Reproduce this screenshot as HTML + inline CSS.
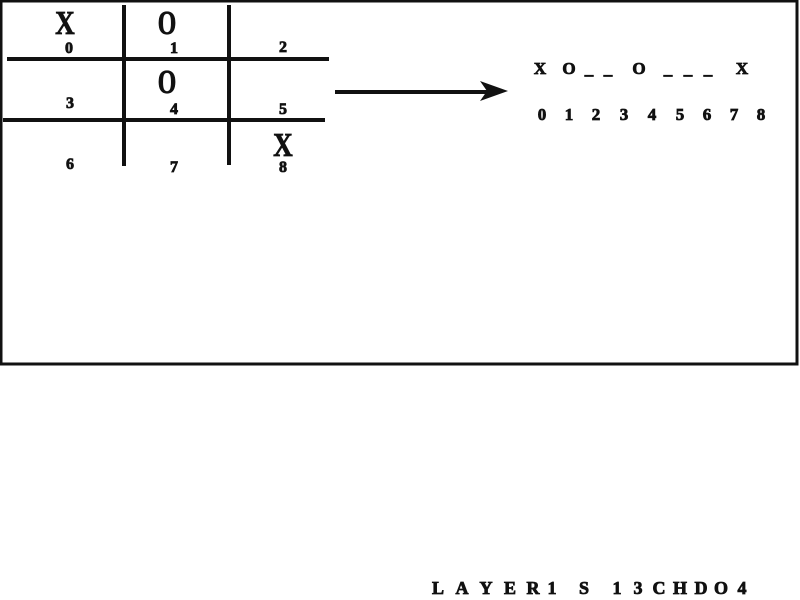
<!DOCTYPE html>
<html><head><meta charset="utf-8"><style>
html,body{margin:0;padding:0;background:#fff;}
svg{display:block}
text{font-family:"Liberation Serif",serif;font-weight:bold;fill:#111;stroke:#111;stroke-width:0.8;text-anchor:middle;}
</style></head><body>
<svg width="800" height="600" viewBox="0 0 800 600">
<rect x="1" y="1" width="796" height="363" fill="none" stroke="#111" stroke-width="3"/>
<g stroke="#111" stroke-width="4">
<line x1="124" y1="5" x2="124" y2="166"/>
<line x1="229" y1="5" x2="229" y2="165"/>
<line x1="7" y1="59" x2="329" y2="59"/>
<line x1="3" y1="120" x2="325" y2="120"/>
<line x1="335" y1="92" x2="488" y2="92"/>
</g>
<polygon points="508,91 480,81 487,91 480,101" fill="#111"/>
<g font-size="34">
<text transform="translate(65,34) scale(0.8,1)">X</text>
<text transform="translate(167,34) scale(0.7,1)">O</text>
<text transform="translate(167,93) scale(0.7,1)">O</text>
<text transform="translate(283,156) scale(0.8,1)">X</text>
</g>
<g font-size="16">
<text x="69" y="53">0</text><text x="174" y="53">1</text><text x="283" y="52">2</text>
<text x="70" y="108">3</text><text x="174" y="114">4</text><text x="283" y="114">5</text>
<text x="70" y="169">6</text><text x="174" y="172">7</text><text x="283" y="172">8</text>
</g>
<g font-size="17">
<text x="540" y="74">X</text><text x="569" y="74">O</text>
<text x="589" y="74">_</text><text x="608" y="74">_</text>
<text x="639" y="74">O</text>
<text x="668" y="74">_</text><text x="688" y="74">_</text><text x="708" y="74">_</text>
<text x="742" y="74">X</text>
<text x="542" y="120">0</text><text x="569" y="120">1</text><text x="596" y="120">2</text>
<text x="624" y="120">3</text><text x="652" y="120">4</text><text x="680" y="120">5</text>
<text x="707" y="120">6</text><text x="734" y="120">7</text><text x="761" y="120">8</text>
</g>
<g font-size="18" style="stroke-width:1.2">
<text x="438" y="594">L</text><text x="462" y="594">A</text><text x="486" y="594">Y</text>
<text x="510" y="594">E</text><text x="533" y="594">R</text><text x="552" y="594">1</text>
<text x="584" y="594">S</text><text x="617" y="594">1</text><text x="638" y="594">3</text>
<text x="659" y="594">C</text><text x="680" y="594">H</text><text x="701" y="594">D</text>
<text x="721" y="594">O</text><text x="742" y="594">4</text>
</g>
</svg>
</body></html>
